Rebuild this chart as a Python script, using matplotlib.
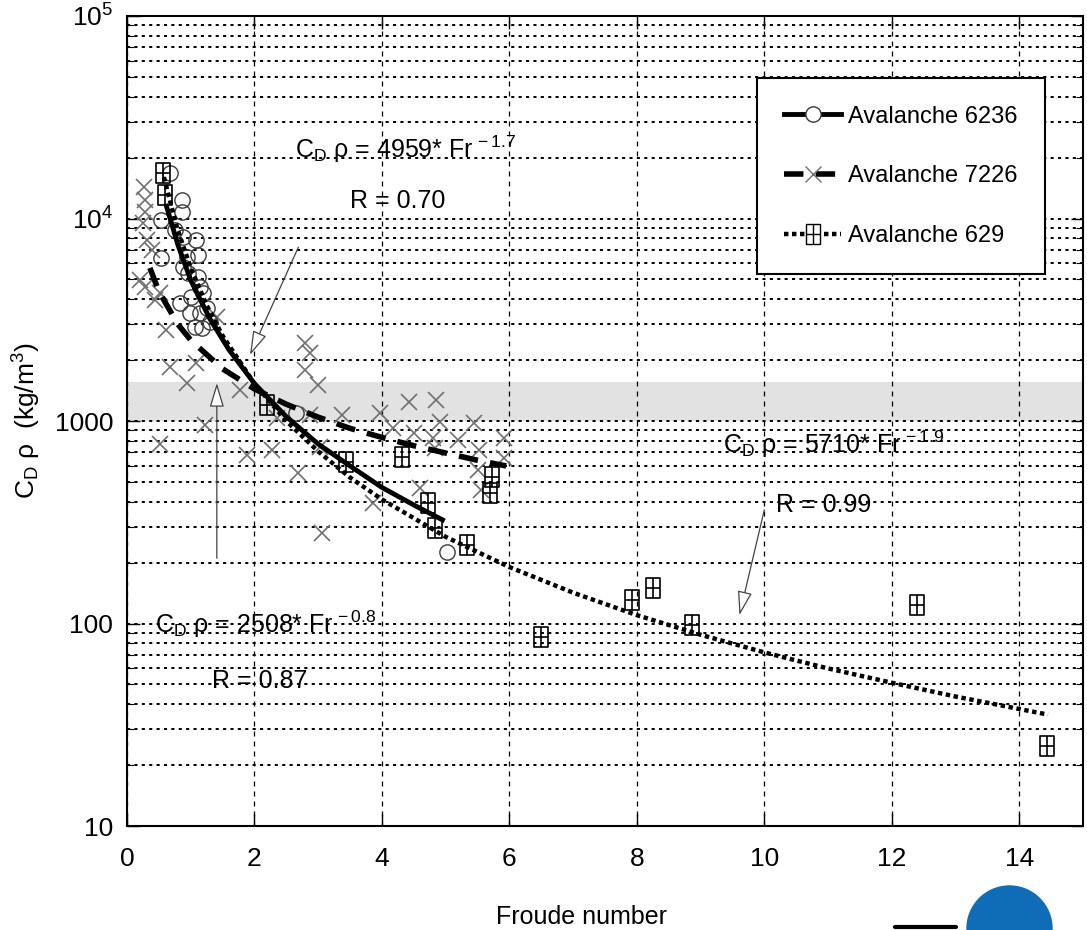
import matplotlib

matplotlib.use("Agg")

import matplotlib.pyplot as plt
from matplotlib import font_manager
from matplotlib.lines import Line2D
from matplotlib.patches import Ellipse
from matplotlib.path import Path

# scatter points
aval_6236_x = [0.67, 0.86, 0.54, 0.86, 0.75, 0.88, 1.09, 1.11, 0.54, 0.94, 0.88, 0.96, 1.11, 1.14, 0.83,
               1.01, 1.19, 0.99, 1.17, 1.07, 1.14, 1.30, 1.25, 2.66, 5.02]
aval_6236_y = [16780, 12340, 9830, 10800, 8780, 8130, 7830, 6600, 6380, 6480, 5780, 5380, 5160, 4600, 3830,
               4110, 4290, 3410, 2880, 2920, 3410, 3100, 3600, 1095, 225]

aval_7226_x = [0.26, 0.28, 0.28, 0.25, 0.31, 0.39, 0.28, 0.52, 0.62, 0.67, 0.94, 1.09, 1.41, 0.52, 1.22,
               0.20, 0.44, 2.79, 2.87, 2.79, 2.99, 1.77, 2.35, 2.87, 3.37, 3.97, 4.43, 4.85, 4.17, 4.51,
               4.91, 4.80, 4.83, 5.19, 5.45, 5.53, 5.50, 5.56, 5.92, 5.92, 1.88, 2.27, 2.68, 4.59, 3.86,
               3.03, 3.06]
aval_7226_y = [14350, 12340, 10800, 9500, 7830, 6990, 4600, 4290, 2815, 1855, 1540, 1934, 3275, 770, 955,
               4970, 3960, 2420, 2170, 1786, 1506, 1423, 1035, 1070, 1070, 1095, 1245, 1270, 923, 872,
               992, 824, 736, 806, 977, 719, 573, 456, 824, 657, 679, 719, 553, 467, 394,
               744, 280]

aval_629_x = [0.56, 0.60, 2.19, 3.44, 4.31, 4.72, 4.83, 5.34, 5.73, 5.69, 6.49, 7.93, 8.25, 8.86, 12.40, 14.43]
aval_629_y = [16780, 13060, 1200, 630, 666, 394, 296, 244, 531, 441, 85.8, 130.6, 149.7, 98.3, 123.4, 24.8]

# fitted curves, points
fit_6236_x = [0.62, 0.8, 1.0, 1.3, 1.6, 2.0, 2.5, 3.0, 3.5, 4.0, 4.5, 4.95]
fit_6236_y = [11500, 7400, 4960, 3200, 2250, 1530, 1050, 770, 600, 470, 385, 325]

fit_7226_x = [0.36, 0.5, 0.8, 1.0, 1.5, 2.0, 2.5, 3.0, 3.5, 4.0, 4.5, 5.0, 5.5, 5.95]
fit_7226_y = [5700, 4370, 3000, 2510, 1810, 1440, 1210, 1045, 920, 830, 755, 695, 640, 600]

fit_629_x = [0.58, 0.7, 0.8, 1.0, 1.25, 1.5, 2.0, 2.5, 3.0, 3.5, 4.0, 5.0, 6.0, 7.0, 8.0, 9.0, 10.0,
             11.0, 12.0, 13.0, 14.45]
fit_629_y = [16000, 11400, 8720, 5710, 3730, 2640, 1530, 1000, 708, 526, 410, 268, 190, 142, 110, 88, 72,
             60, 51, 43.6, 35.5]

legend_labels = ["Avalanche 6236", "Avalanche 7226", "Avalanche 629"]
x_ticks = [0, 2, 4, 6, 8, 10, 12, 14]
y_ticks = [10, 100, 1000, 1e4, 1e5]
y_tick_labels = ["10", "100", "1000", r"10$^{\rm 4}$", r"10$^{\rm 5}$"]
band = (1000, 1550)

names = {f.name for f in font_manager.fontManager.ttflist}
NARROW = "Liberation Sans Narrow" in names
FONT = "Liberation Sans Narrow" if NARROW else "Liberation Sans"
FS = 21 if NARROW else 18

plt.rcParams["font.family"] = [FONT, "DejaVu Sans"]
plt.rcParams["mathtext.fontset"] = "custom"
plt.rcParams["mathtext.rm"] = FONT
plt.rcParams["mathtext.it"] = FONT
plt.rcParams["mathtext.bf"] = FONT

# box with a cross inside, like the original's square marker
box_plus = Path(
    [(-0.7, -1), (0.7, -1), (0.7, 1), (-0.7, 1), (-0.7, -1), (0, -1), (0, 1), (-0.7, 0), (0.7, 0)],
    [Path.MOVETO, Path.LINETO, Path.LINETO, Path.LINETO, Path.CLOSEPOLY,
     Path.MOVETO, Path.LINETO, Path.MOVETO, Path.LINETO],
)

fig = plt.figure(figsize=(10.87, 9.30), dpi=100)
ax = fig.add_axes([0.1168, 0.1118, 0.8795, 0.871])
ax.set_yscale("log")
ax.set_xlim(0, 15)
ax.set_ylim(10, 1e5)

ax.axhspan(*band, color="#e2e2e2", zorder=0, lw=0)
ax.grid(True, which="both", axis="y", color="black", linestyle=(0, (1.6, 2.2)), linewidth=1.4, zorder=1)
ax.grid(True, which="major", axis="x", color="black", linestyle=(0, (4, 4)), linewidth=0.9, zorder=1)

ax.plot(aval_7226_x, aval_7226_y, ls="none", marker="x", ms=12, mew=1.2, color="#707070", zorder=3)
ax.plot(aval_6236_x, aval_6236_y, ls="none", marker="o", ms=11, mew=1.0, mfc="none", mec="#3a3a3a", zorder=3)
ax.plot(aval_629_x, aval_629_y, ls="none", marker=box_plus, ms=14, mew=1.2, mfc="none", mec="black", zorder=3)

ax.plot(fit_629_x, fit_629_y, color="black", lw=3.2, ls=(0, (1, 0.8)), zorder=4)
ax.plot(fit_7226_x, fit_7226_y, color="black", lw=4.0, ls=(0, (3.5, 2.2)), zorder=4)
ax.plot(fit_6236_x, fit_6236_y, color="black", lw=3.5, ls="-", zorder=5)

# equations and arrows
arrow = dict(arrowstyle="-|>,head_length=1.5,head_width=0.45", fc="white", ec="#444444", lw=0.9,
             shrinkA=0, shrinkB=0)
ax.text(2.63, 19900, r"C$_{\rm D}$ ρ = 4959* Fr$^{\,\rm -1.7}$", fontsize=FS, va="baseline", zorder=6)
ax.text(3.5, 11270, "R = 0.70", fontsize=FS, va="baseline", zorder=6)
ax.annotate("", xy=(1.93, 2120), xytext=(2.69, 7220), arrowprops=arrow, zorder=6)

ax.text(0.44, 89.8, r"C$_{\rm D}$ ρ = 2508* Fr$^{\,\rm -0.8}$", fontsize=FS, va="baseline", zorder=6)
ax.text(1.33, 48.0, "R = 0.87", fontsize=FS, va="baseline", zorder=6)
ax.annotate("", xy=(1.41, 1540), xytext=(1.41, 210), arrowprops=arrow, zorder=6)

ax.text(9.35, 695, r"C$_{\rm D}$ ρ = 5710* Fr$^{\,\rm -1.9}$", fontsize=FS, va="baseline", zorder=6)
ax.text(10.18, 357, "R = 0.99", fontsize=FS, va="baseline", zorder=6)
ax.annotate("", xy=(9.61, 110), xytext=(10.0, 364), arrowprops=arrow, zorder=6)

ax.set_xticks(x_ticks)
ax.set_yticks(y_ticks)
ax.set_yticklabels(y_tick_labels)
ax.tick_params(which="both", direction="in", top=True, right=True, colors="black", labelsize=FS + 1)
ax.tick_params(which="major", length=9, width=1.0)
ax.tick_params(which="minor", length=5, width=0.8)
ax.tick_params(axis="x", pad=15)
ax.tick_params(axis="y", pad=10)
for spine in ax.spines.values():
    spine.set_linewidth(1.5)

ax.set_xlabel("Froude number", fontsize=FS)
ax.xaxis.set_label_coords(0.475, -0.097)
ax.set_ylabel(r"C$_{\rm D}$ ρ  (kg/m$^{\rm 3}$)", fontsize=FS + 1)
ax.yaxis.set_label_coords(-0.088, 0.5)

handles = [
    Line2D([], [], color="black", lw=3.5, ls="-", marker="o", ms=11, mfc="white", mec="#3a3a3a"),
    Line2D([], [], color="black", lw=4.0, ls=(0, (3.5, 2.2)), marker="x", ms=12, mec="#707070"),
    Line2D([], [], color="black", lw=3.2, ls=(0, (1, 0.8)), marker=box_plus, ms=14, mfc="white", mec="black"),
]
leg = ax.legend(handles, legend_labels, loc="upper right", bbox_to_anchor=(0.96, 0.923), fontsize=FS - 1,
                frameon=True, fancybox=False, edgecolor="black", framealpha=1, numpoints=1,
                handlelength=2.4, handletextpad=0.3, labelspacing=1.6, borderpad=1.15, borderaxespad=0)
leg.get_frame().set_linewidth(1.5)
leg.set_zorder(7)

# blue blob and black stroke at the bottom edge of the source image
fig.patches.append(Ellipse((1009.5 / 1087, 1.5 / 930), 85 / 1087, 85 / 930, transform=fig.transFigure,
                           color="#0f6cb6", zorder=10))
fig.lines.append(Line2D([895 / 1087, 956 / 1087], [3 / 930, 3 / 930], transform=fig.transFigure,
                        color="black", lw=3, solid_capstyle="round"))

fig.savefig("out.png", dpi=100)
